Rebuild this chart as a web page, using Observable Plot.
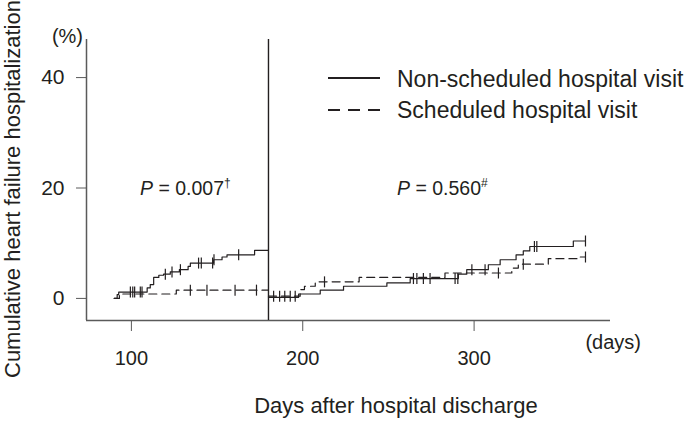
<!DOCTYPE html>
<html><head><meta charset="utf-8">
<script src="https://cdn.jsdelivr.net/npm/d3@7"></script>
<script src="https://cdn.jsdelivr.net/npm/@observablehq/plot@0.6"></script>
<style>
html,body{margin:0;padding:0;background:#fff;}
#chart svg{display:block;}
</style>
</head><body><div id="chart"></div>
<script>
// ---- data ----
const xTicks = [100, 200, 300];
const yTicks = [0, 20, 40];
const xDomain = [73.8, 379.6];
const yDomain = [-4, 46.9];
const landmarkDay = 180;
const seriesNames = ["Non-scheduled hospital visit", "Scheduled hospital visit"];
const pValues = ["0.007", "0.560"];
const pMarks = ["\u2020", "#"];

// Left period (90–180 days)
const leftSolidDays = [90, 91.7, 92.6, 109.2, 111, 113, 116, 118.8, 122.7, 128, 133.1, 134.4, 148, 152.9, 155.8, 171.9, 180];
const leftSolidPct  = [0, 0.7, 1.15, 1.9, 2.5, 3.8, 4.2, 4.4, 4.8, 5.2, 5.8, 6.4, 7.0, 7.5, 7.9, 8.7, 8.7];
const leftDashedDays = [90, 93, 126.2, 180];
const leftDashedPct  = [0, 0.8, 1.5, 1.5];
const leftSolidCensor  = [99.4, 100.8, 101.9, 105.2, 106.2, 119.8, 123.7, 128.6, 139.2, 140.8, 147.4, 148.2, 162.6];
const leftDashedCensor = [134.4, 144.1, 160.5, 173];

// Right period (180–365 days)
const rightSolidDays = [180, 197.6, 210.2, 223.8, 249.1, 262.7, 290.8, 295.7, 308.3, 315.2, 324.5, 328.7, 332.5, 357.9, 365];
const rightSolidPct  = [0.2, 0.8, 1.5, 2.2, 2.8, 3.6, 4.4, 5.2, 6.1, 7.0, 7.9, 8.6, 9.4, 10.4, 10.4];
const rightDashedDays = [180, 198.5, 201, 207.3, 232.9, 283, 322, 325.8, 343.3, 361.8, 365];
const rightDashedPct  = [0.4, 1.6, 2.2, 3.0, 3.8, 4.6, 5.5, 6.2, 7.2, 7.5, 7.5];
const rightSolidCensor  = [264.6, 266.6, 270.4, 274.3, 288.9, 290.5, 298.7, 306.4, 335.2, 336.6, 365];
const rightDashedCensor = [183, 186.5, 189.5, 192.7, 195.6, 212.7, 314.2, 328.7, 365];

// ---- build tables ----
function steps(days, pct, series, panel) {
  return days.map((d, i) => ({day: d, pct: pct[i], series, panel}));
}
function valueAt(days, pct, t) {
  let v = pct[0];
  for (let i = 0; i < days.length; i++) if (days[i] <= t) v = pct[i];
  return v;
}
function censor(times, days, pct, series) {
  return times.map(t => ({day: t, pct: valueAt(days, pct, t), series}));
}
const solidData = [...steps(leftSolidDays, leftSolidPct, seriesNames[0], "L"), ...steps(rightSolidDays, rightSolidPct, seriesNames[0], "R")];
const dashedData = [...steps(leftDashedDays, leftDashedPct, seriesNames[1], "L"), ...steps(rightDashedDays, rightDashedPct, seriesNames[1], "R")];
const censorData = [
  ...censor(leftSolidCensor, leftSolidDays, leftSolidPct, seriesNames[0]),
  ...censor(rightSolidCensor, rightSolidDays, rightSolidPct, seriesNames[0]),
  ...censor(leftDashedCensor, leftDashedDays, leftDashedPct, seriesNames[1]),
  ...censor(rightDashedCensor, rightDashedDays, rightDashedPct, seriesNames[1])
];

const ink = "#231f20";
const axisGray = "#5a5a5a";
const font = "'Liberation Sans', Arial, Helvetica, sans-serif";
const vtick = {draw(ctx, size) { const r = Math.sqrt(size / Math.PI); ctx.moveTo(0, -r); ctx.lineTo(0, r); }};

const chart = Plot.plot({
  width: 686, height: 429,
  marginLeft: 86, marginRight: 76, marginTop: 39, marginBottom: 109,
  x: {domain: xDomain},
  y: {domain: yDomain},
  style: {fontFamily: font, fontSize: "20px", color: ink, background: "white"},
  marks: [
    Plot.axisX({ticks: xTicks, tickSize: 11, tickPadding: 19, label: null, stroke: axisGray, fill: ink}),
    Plot.axisY({ticks: yTicks, tickSize: 10, tickPadding: 12, label: null, stroke: axisGray, fill: ink, fontSize: 21}),
    Plot.ruleY([yDomain[0]], {stroke: axisGray, strokeWidth: 1.5}),
    Plot.ruleX([xDomain[0]], {stroke: axisGray, strokeWidth: 1.5}),
    Plot.ruleX([landmarkDay], {stroke: ink, strokeWidth: 1.4}),
    Plot.line(solidData, {x: "day", y: "pct", z: "panel", curve: "step-after", stroke: ink, strokeWidth: 1.2}),
    Plot.line(dashedData, {x: "day", y: "pct", z: "panel", curve: "step-after", stroke: ink, strokeWidth: 1.2, strokeDasharray: "8,5"}),
    Plot.dot(censorData, {x: "day", y: "pct", symbol: vtick, r: 5.5, stroke: ink, strokeWidth: 1.2, fill: "none"})
  ]
});
document.getElementById("chart").appendChild(chart);

// ---- annotations ----
const svg = d3.select(chart);
const g = svg.append("g").attr("font-family", font).attr("fill", ink).attr("text-anchor", "start");
g.append("text").attr("x", 83).attr("y", 43).attr("text-anchor", "end").attr("font-size", 20).text("(%)");
g.append("text").attr("transform", "translate(20,378) rotate(-90)").attr("text-anchor", "start").attr("font-size", 22).text("Cumulative heart failure hospitalization");
g.append("text").attr("x", 641).attr("y", 349).attr("text-anchor", "end").attr("font-size", 20).text("(days)");
g.append("text").attr("x", 396).attr("y", 413).attr("text-anchor", "middle").attr("font-size", 22).text("Days after hospital discharge");

[[140, 195], [397, 195]].forEach(([x, y], i) => {
  const t = g.append("text").attr("x", x).attr("y", y).attr("text-anchor", "start").attr("font-size", 19.5);
  t.append("tspan").attr("font-style", "italic").text("P");
  t.append("tspan").text(" = " + pValues[i]);
  t.append("tspan").attr("font-size", 12).attr("dy", -8).text(pMarks[i]);
});

const legend = g.append("g");
[[78, 87, null], [110, 118, "12,8"]].forEach(([ly, ty, dash], i) => {
  legend.append("line").attr("x1", 328).attr("x2", 380).attr("y1", ly).attr("y2", ly)
    .attr("stroke", ink).attr("stroke-width", 2).attr("stroke-dasharray", dash);
  legend.append("text").attr("x", 397).attr("y", ty).attr("text-anchor", "start").attr("font-size", 23).text(seriesNames[i]);
});
</script>
</body></html>
